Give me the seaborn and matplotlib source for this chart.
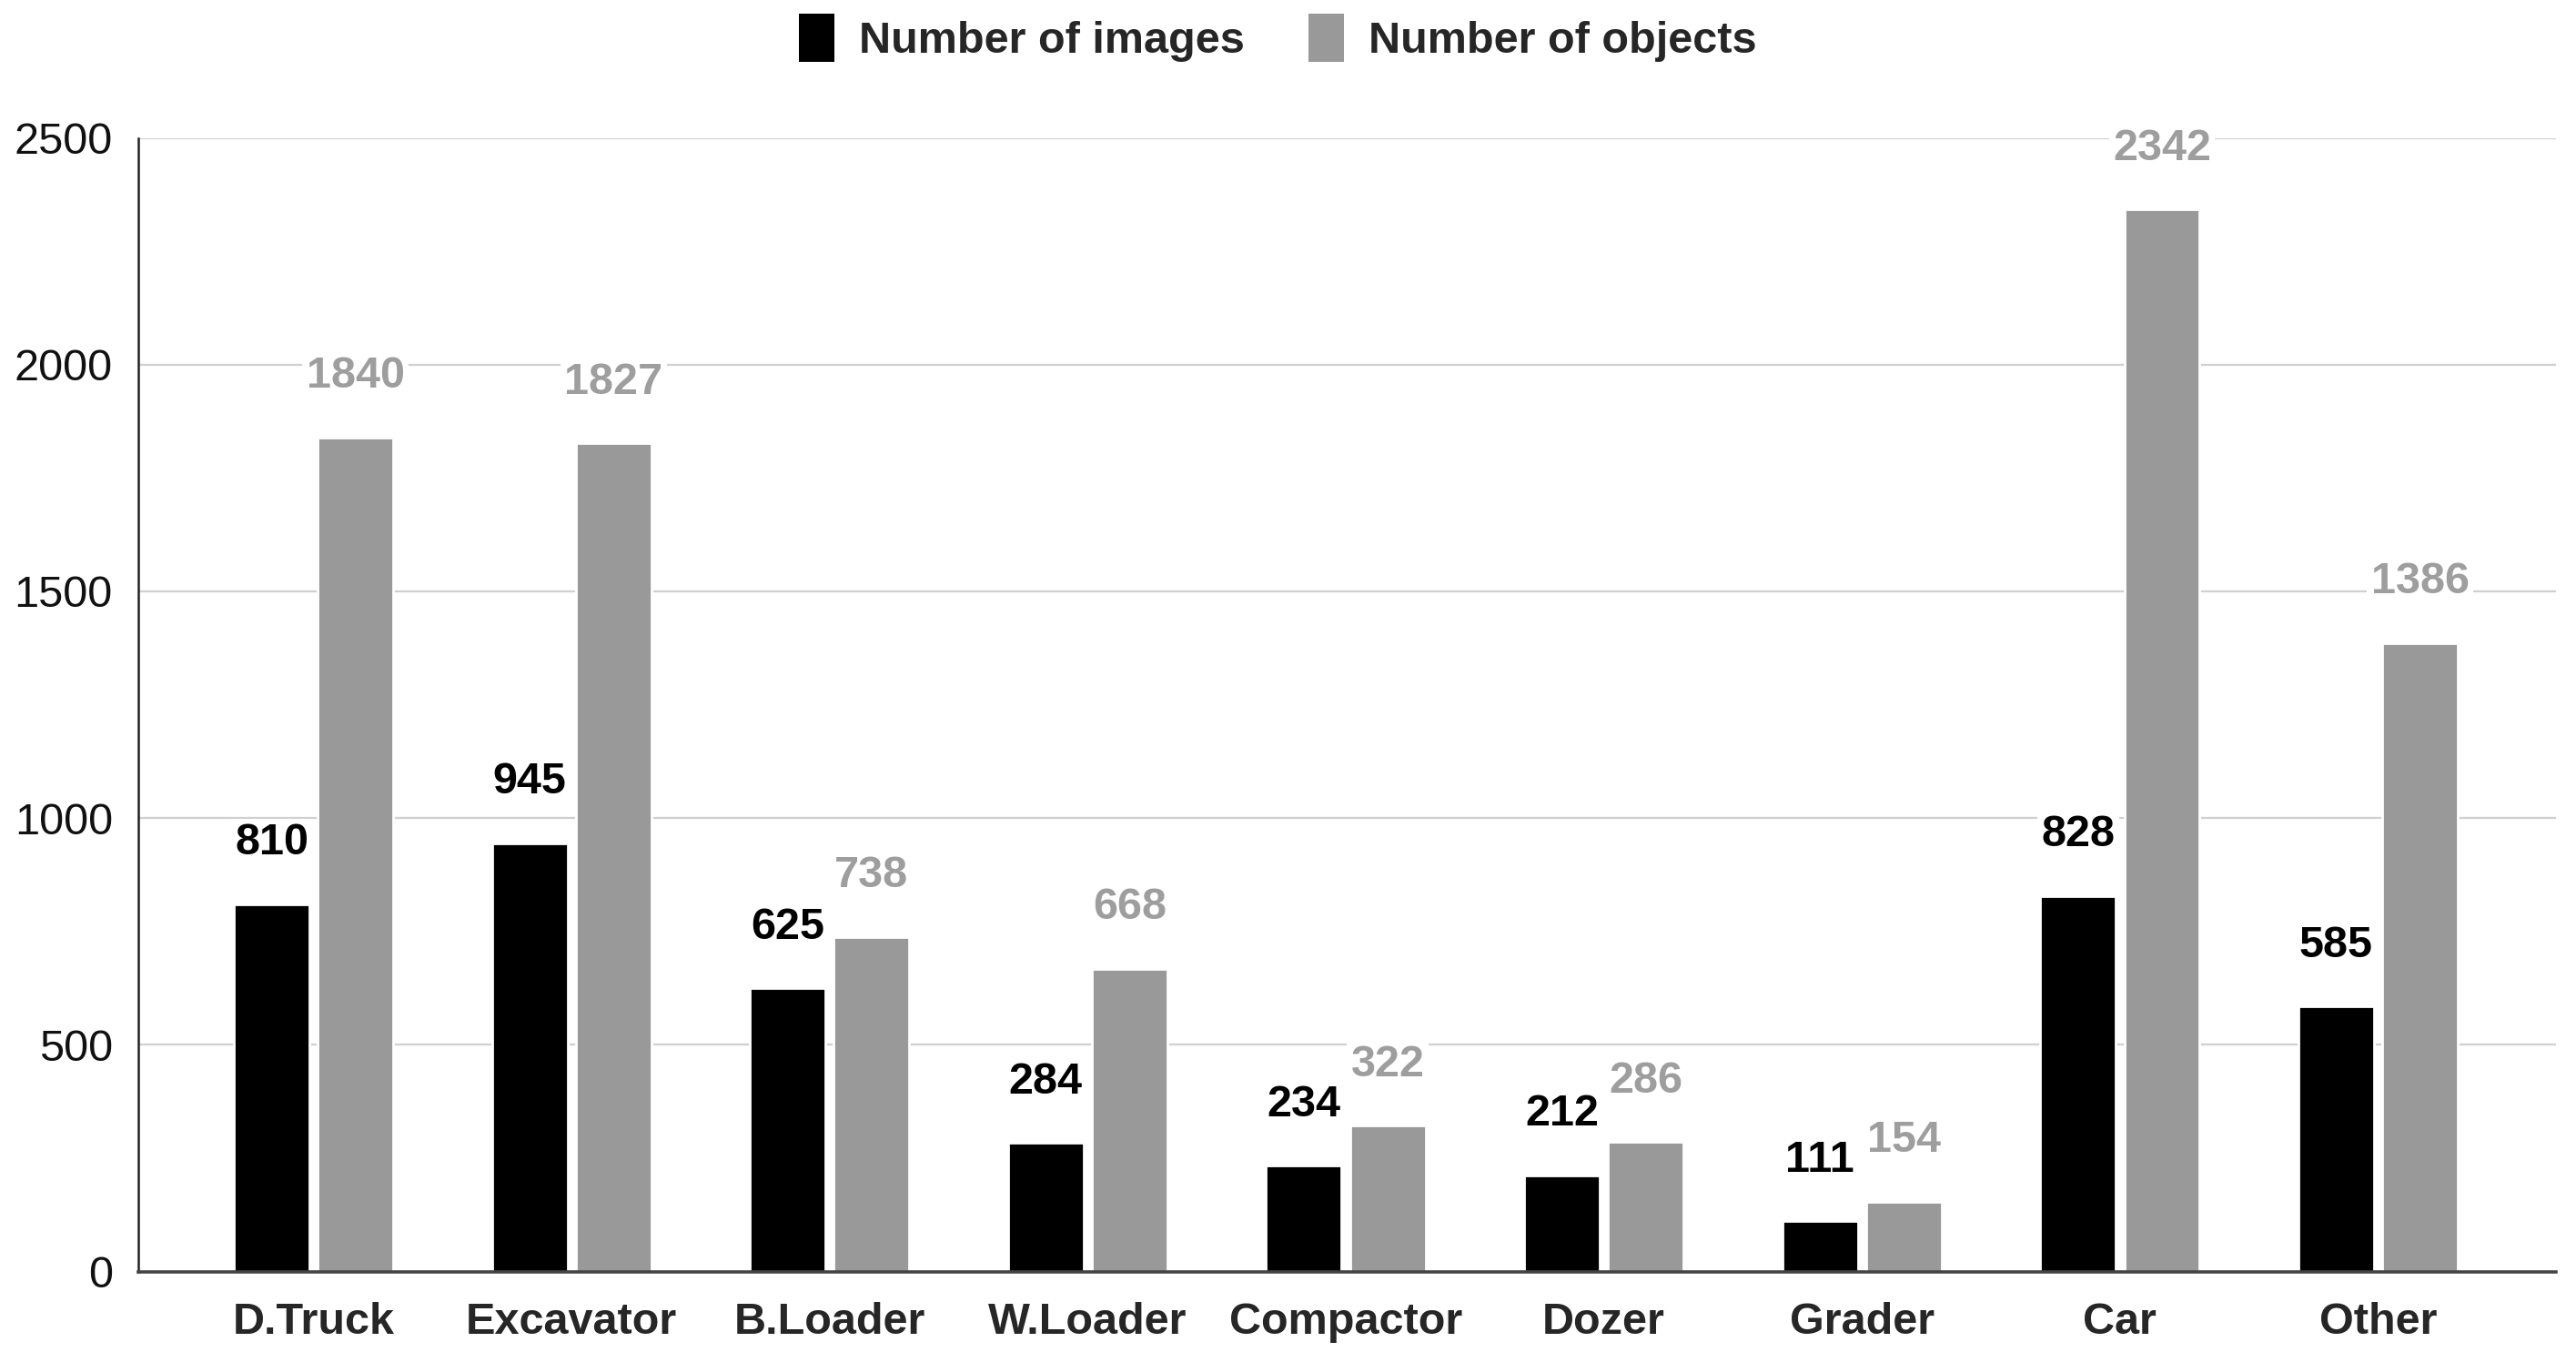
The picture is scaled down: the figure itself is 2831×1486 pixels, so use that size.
import matplotlib
matplotlib.use("Agg")
import matplotlib.pyplot as plt
import seaborn as sns
import pandas as pd
from matplotlib.patches import Patch

# data
categories = ["D.Truck", "Excavator", "B.Loader", "W.Loader", "Compactor",
              "Dozer", "Grader", "Car", "Other"]
num_images = [810, 945, 625, 284, 234, 212, 111, 828, 585]
num_objects = [1840, 1827, 738, 668, 322, 286, 154, 2342, 1386]
series = ["Number of images", "Number of objects"]
colors = ["#000000", "#999999"]
label_colors = ["#000000", "#9e9e9e"]
y_ticks = [0, 500, 1000, 1500, 2000, 2500]

df = pd.DataFrame({"category": categories,
                   series[0]: num_images,
                   series[1]: num_objects})
long_df = df.melt(id_vars="category", var_name="series", value_name="count")

sns.set_style("white")
plt.rcParams["font.family"] = ["Liberation Sans", "DejaVu Sans"]
fs = 17.5

fig = plt.figure(figsize=(14.155, 7.43), dpi=200)
ax = fig.add_axes([0.0536, 0.0595, 0.9387, 0.8385])

sns.barplot(data=long_df, x="category", y="count", hue="series",
            palette=colors, width=0.65, gap=0.1, ax=ax, legend=False,
            saturation=1)

ax.set_ylim(0, 2500)
ax.set_xlim(-0.68, 8.69)
ax.set_yticks(y_ticks)
ax.set_yticklabels([str(t) for t in y_ticks])
ax.yaxis.grid(True, color="#d0d0d0", linewidth=0.8)
ax.set_axisbelow(True)
ax.set_xlabel("")
ax.set_ylabel("")

for side in ["top", "right"]:
    ax.spines[side].set_visible(False)
ax.spines["left"].set_color("#222222")
ax.spines["left"].set_linewidth(0.9)
ax.spines["bottom"].set_color("#444444")
ax.spines["bottom"].set_linewidth(1.3)

ax.tick_params(axis="y", length=0, pad=10, labelsize=fs, labelcolor="#111111")
ax.tick_params(axis="x", length=0, pad=12, labelsize=fs)
for lbl in ax.get_xticklabels():
    lbl.set_fontweight("bold")

for cont, lc in zip(ax.containers, label_colors):
    texts = ax.bar_label(cont, padding=16, fontsize=fs, fontweight="bold",
                         color=lc)
    for t in texts:
        t.set_bbox(dict(facecolor="white", edgecolor="none", pad=1.5))

handles = [Patch(facecolor=c, edgecolor="none") for c in colors]
leg = fig.legend(handles, series, loc="center", bbox_to_anchor=(0.496, 0.972),
                 ncol=2, frameon=False, handlelength=0.8, handleheight=1.3,
                 handletextpad=0.55, columnspacing=1.45,
                 prop={"weight": "bold", "size": fs})

fig.savefig("out.png", dpi=200, facecolor="white")
